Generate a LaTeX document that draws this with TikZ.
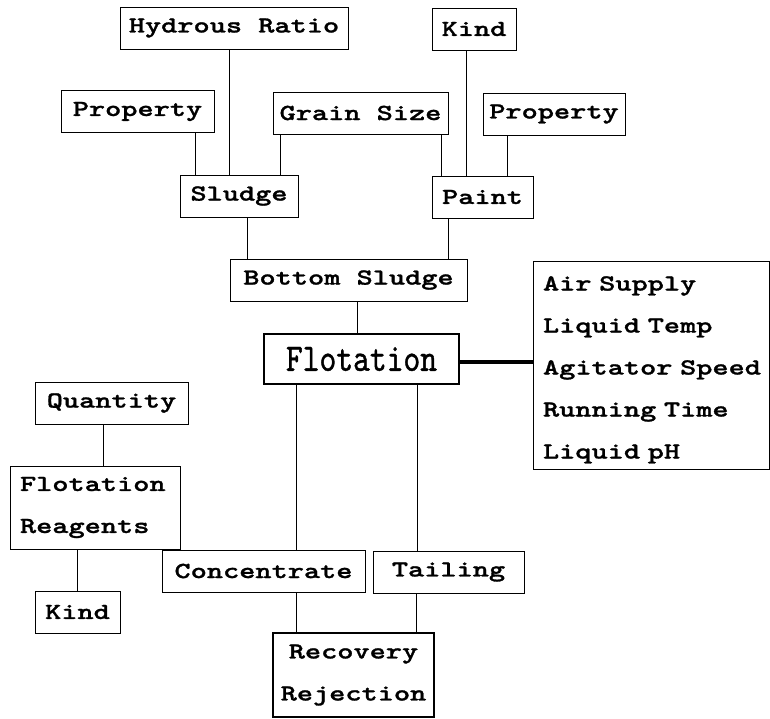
\documentclass[tikz,border=0pt]{standalone}
\usepackage{fontspec}
\newfontfamily\petit{lmmonolt10-bold.otf}[FakeStretch=1.34, FakeBold=1.2]
\newfontfamily\grand{lmmono10-regular.otf}[FakeStretch=0.82, FakeBold=1]

\begin{document}
\begin{tikzpicture}[x=1pt, y=-1pt, line width=1pt,
    boite/.style={draw, inner sep=0pt, minimum height=42pt, font=\petit\fontsize{23}{42}\selectfont},
    gros/.style={line width=3.5pt}]
    \useasboundingbox (0,0) rectangle (770,718);
    % Boites du haut
    \node[boite, minimum width=228pt] (hydrous) at (234,28) {Hydrous Ratio};
    \node[boite, minimum width=84pt] (kindtop) at (474,29) {Kind};
    \node[boite, minimum width=153pt] (propL) at (137.5,111.5) {Property};
    \node[boite, minimum width=175pt] (grain) at (360.5,113) {Grain Size};
    \node[boite, minimum width=142pt] (propR) at (554,114) {Property};
    \node[boite, minimum width=118pt] (sludge) at (239,196) {Sludge};
    \node[boite, minimum width=101pt] (paint) at (482.5,197) {Paint};
    \node[boite, minimum width=237pt] (bottom) at (348.5,280) {Bottom Sludge};
    % Flottation et parametres
    \node[boite, line width=2pt, minimum width=195pt, minimum height=50pt,
        font=\grand\fontsize{39}{44}\selectfont] (flot) at (361.5,359) {Flotation};
    \node[boite, minimum width=236pt, minimum height=208pt, text width=216pt, align=left] (params) at (651,365)
        {\rule{0pt}{24pt}Air Supply\\Liquid Temp\\Agitator~Speed\\Running Time\\Liquid pH};
    % Reactifs
    \node[boite, minimum width=153pt] (quantity) at (111.5,403) {Quantity};
    \node[boite, minimum width=170pt, minimum height=83pt, text width=150pt, align=left] (reagents) at (95,507.5)
        {Flotation\\Reagents};
    \node[boite, minimum width=85pt] (kindbot) at (77.5,612) {Kind};
    % Produits
    \node[boite, minimum width=203pt] (conc) at (263.5,571) {Concentrate};
    \node[boite, minimum width=151pt] (tailing) at (448.5,572) {Tailing};
    \node[boite, line width=1.6pt, minimum width=161pt, minimum height=84pt, align=center] (recov) at (353.5,675)
        {Recovery\\Rejection};
    % Liens du haut
    \draw ([xshift=-5]hydrous.south) -- ([xshift=-5]hydrous.south |- sludge.north);
    \draw ([xshift=16]sludge.north west) -- ([xshift=16]sludge.north west |- propL.south);
    \draw ([xshift=8]grain.south west) -- ([xshift=8]grain.south west |- sludge.north);
    \draw ([xshift=-7]grain.south east) -- ([xshift=-7]grain.south east |- paint.north);
    \draw ([xshift=-8]kindtop.south) -- ([xshift=-8]kindtop.south |- paint.north);
    \draw ([xshift=-26]paint.north east) -- ([xshift=-26]paint.north east |- propR.south);
    \draw ([xshift=8]sludge.south) -- ([xshift=8]sludge.south |- bottom.north);
    \draw ([xshift=-19]bottom.north east) -- ([xshift=-19]bottom.north east |- paint.south);
    \draw ([xshift=-4]flot.north) -- ([xshift=-4]flot.north |- bottom.south);
    % Lien epais
    \draw[gros] ([yshift=-3]flot.east) -- ([yshift=-3]flot.east -| params.west);
    % Liens du bas
    \draw ([xshift=33]flot.south west) -- ([xshift=33]flot.south west |- conc.north);
    \draw ([xshift=-43]flot.south east) -- ([xshift=-43]flot.south east |- tailing.north);
    \draw ([xshift=24]recov.north west) -- ([xshift=24]recov.north west |- conc.south);
    \draw ([xshift=-18]recov.north east) -- ([xshift=-18]recov.north east |- tailing.south);
    \draw ([xshift=-8]quantity.south) -- ([xshift=-8]quantity.south |- reagents.north);
    \draw (kindbot.north) -- (kindbot.north |- reagents.south);
\end{tikzpicture}
\end{document}
